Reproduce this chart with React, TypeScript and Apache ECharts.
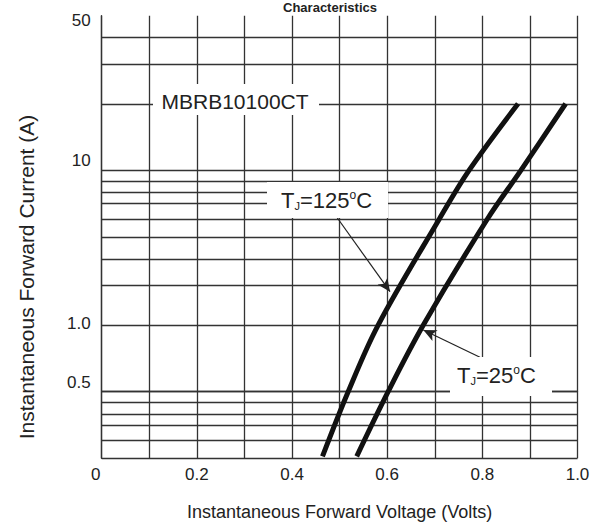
import React, { useEffect, useRef } from "react";
import * as echarts from "echarts";

// Forward voltage (V) / forward current (A)
const VOLT_125 = [0.464, 0.518, 0.581, 0.709, 0.772, 0.875];
const AMP_125 = [0.51, 1.0, 2.0, 6.0, 10, 20];
const VOLT_25 = [0.536, 0.602, 0.676, 0.81, 0.881, 0.975];
const AMP_25 = [0.51, 1.0, 2.0, 6.0, 10, 20];

// Horizontal grid lines (A) of the log grid
const CURRENT_GRID = [0.5, 0.6, 0.7, 0.8, 0.9, 1, 2, 3, 4, 5, 6, 7, 8, 9, 10, 20, 30, 40, 50];

// Tick labels as printed on the reference, and where they sit on the drawn grid (A)
const Y_LABELS = ["50", "10", "1.0", "0.5"];
const Y_LABEL_AT = [47.5, 11.1, 2.04, 1.1];
const X_LABELS = ["0", "0.2", "0.4", "0.6", "0.8", "1.0"];
const X_LABEL_AT = [0, 0.2, 0.4, 0.6, 0.8, 1.0];

// Arrow annotations: [fromVolt, fromAmp, toVolt, toAmp]
const ARROW_125 = [0.495, 6.11, 0.606, 2.83];
const ARROW_25 = [0.795, 1.43, 0.676, 1.9];

const FONT = '"Liberation Sans", Arial, Helvetica, sans-serif';
const INK = "#222";
const GRID_INK = "#333";

const lg = (v: number) => Math.log10(v);
const nearestIndex = (v: number, at: number[], f: (x: number) => number) => {
  let best = 0;
  let d = Infinity;
  at.forEach((a, i) => {
    const dd = Math.abs(f(a) - v);
    if (dd < d) {
      d = dd;
      best = i;
    }
  });
  return best;
};

const arrowLine = (a: number[]) => ({
  silent: true,
  symbol: ["none", "arrow"],
  symbolSize: [9, 13],
  label: { show: false },
  lineStyle: { color: INK, width: 1.2, type: "solid" },
  data: [[{ coord: [a[0], lg(a[1])] }, { coord: [a[2], lg(a[3])] }]],
});

const tjRich = {
  s: { fontSize: 11, fontFamily: FONT, fill: INK, verticalAlign: "bottom", lineHeight: 22 },
  o: { fontSize: 12, fontFamily: FONT, fill: INK, verticalAlign: "top", lineHeight: 22 },
};

export default function App() {
  const ref = useRef<HTMLDivElement>(null);
  useEffect(() => {
    if (!ref.current) return;
    const chart = echarts.init(ref.current, undefined, { renderer: "svg" });
    const option: any = {
      animation: false,
      grid: { left: 101.7, right: 28.5, top: 15.7, bottom: 69.7, show: false },
      xAxis: {
        type: "value",
        min: 0,
        max: 1,
        interval: 0.1,
        axisLine: { show: true, lineStyle: { color: GRID_INK, width: 1.3 } },
        axisTick: { show: false },
        splitLine: { show: true, lineStyle: { color: GRID_INK, width: 1.3 } },
        axisLabel: {
          customValues: X_LABEL_AT,
          formatter: (v: number) => {
            const i = nearestIndex(v, X_LABEL_AT, (x) => x);
            return i === 0 ? `{first|${X_LABELS[i]}}` : X_LABELS[i];
          },
          rich: { first: { fontSize: 17, color: INK, fontFamily: FONT, padding: [0, 12, 0, 0] } },
          fontSize: 17,
          color: INK,
          fontFamily: FONT,
          margin: 8,
        },
        name: "Instantaneous Forward Voltage (Volts)",
        nameLocation: "middle",
        nameGap: 45,
        nameTextStyle: { fontSize: 18, color: INK, fontFamily: FONT },
      },
      yAxis: {
        type: "value",
        min: lg(0.5),
        max: lg(50),
        axisLine: { show: true, lineStyle: { color: GRID_INK, width: 1.3 } },
        axisTick: { show: false },
        splitLine: { show: false },
        axisLabel: {
          customValues: Y_LABEL_AT.map(lg),
          formatter: (v: number) => Y_LABELS[nearestIndex(v, Y_LABEL_AT, lg)],
          fontSize: 17,
          color: INK,
          fontFamily: FONT,
          margin: 11,
        },
      },
      series: [
        {
          type: "line",
          data: [],
          z: 1,
          markLine: {
            silent: true,
            symbol: ["none", "none"],
            label: { show: false },
            lineStyle: { color: GRID_INK, width: 1.3, type: "solid" },
            data: CURRENT_GRID.map((v) => ({ yAxis: lg(v) })),
          },
        },
        {
          name: "TJ=125°C",
          type: "line",
          z: 5,
          smooth: 0.35,
          showSymbol: false,
          lineStyle: { color: "#111", width: 5 },
          data: VOLT_125.map((v, i) => [v, lg(AMP_125[i])]),
          markLine: arrowLine(ARROW_125),
        },
        {
          name: "TJ=25°C",
          type: "line",
          z: 5,
          smooth: 0.35,
          showSymbol: false,
          lineStyle: { color: "#111", width: 5 },
          data: VOLT_25.map((v, i) => [v, lg(AMP_25[i])]),
          markLine: arrowLine(ARROW_25),
        },
      ],
      graphic: [
        {
          type: "text",
          x: 330,
          y: 1,
          z: 60,
          style: {
            text: "Characteristics",
            fontSize: 13,
            fontWeight: "bold",
            fontFamily: FONT,
            fill: INK,
            textAlign: "center",
            textVerticalAlign: "top",
          },
        },
        {
          type: "text",
          x: 26,
          y: 277,
          rotation: Math.PI / 2,
          z: 60,
          style: {
            text: "Instantaneous Forward Current (A)",
            fontSize: 21,
            fontFamily: FONT,
            fill: INK,
            textAlign: "center",
            textVerticalAlign: "middle",
          },
        },
        { type: "rect", z: 50, shape: { x: 153, y: 84, width: 166, height: 31 }, style: { fill: "#fff" } },
        {
          type: "text",
          x: 161.5,
          y: 101,
          z: 60,
          style: {
            text: "MBRB10100CT",
            fontSize: 21,
            fontFamily: FONT,
            fill: INK,
            textVerticalAlign: "middle",
          },
        },
        { type: "rect", z: 50, shape: { x: 267, y: 182, width: 121, height: 36 }, style: { fill: "#fff" } },
        {
          type: "text",
          x: 281,
          y: 200,
          z: 60,
          style: {
            text: "T{s|J}=125{o|o}C",
            fontSize: 22,
            fontFamily: FONT,
            fill: INK,
            textVerticalAlign: "middle",
            rich: tjRich,
          },
        },
        { type: "rect", z: 50, shape: { x: 450, y: 357, width: 102, height: 39 }, style: { fill: "#fff" } },
        {
          type: "text",
          x: 457,
          y: 375,
          z: 60,
          style: {
            text: "T{s|J}=25{o|o}C",
            fontSize: 22,
            fontFamily: FONT,
            fill: INK,
            textVerticalAlign: "middle",
            rich: tjRich,
          },
        },
      ],
    };
    chart.setOption(option);
    return () => chart.dispose();
  }, []);
  return (
    <div
      ref={ref}
      style={{ position: "fixed", left: 0, top: 0, width: 606, height: 528, background: "#fff" }}
    />
  );
}
